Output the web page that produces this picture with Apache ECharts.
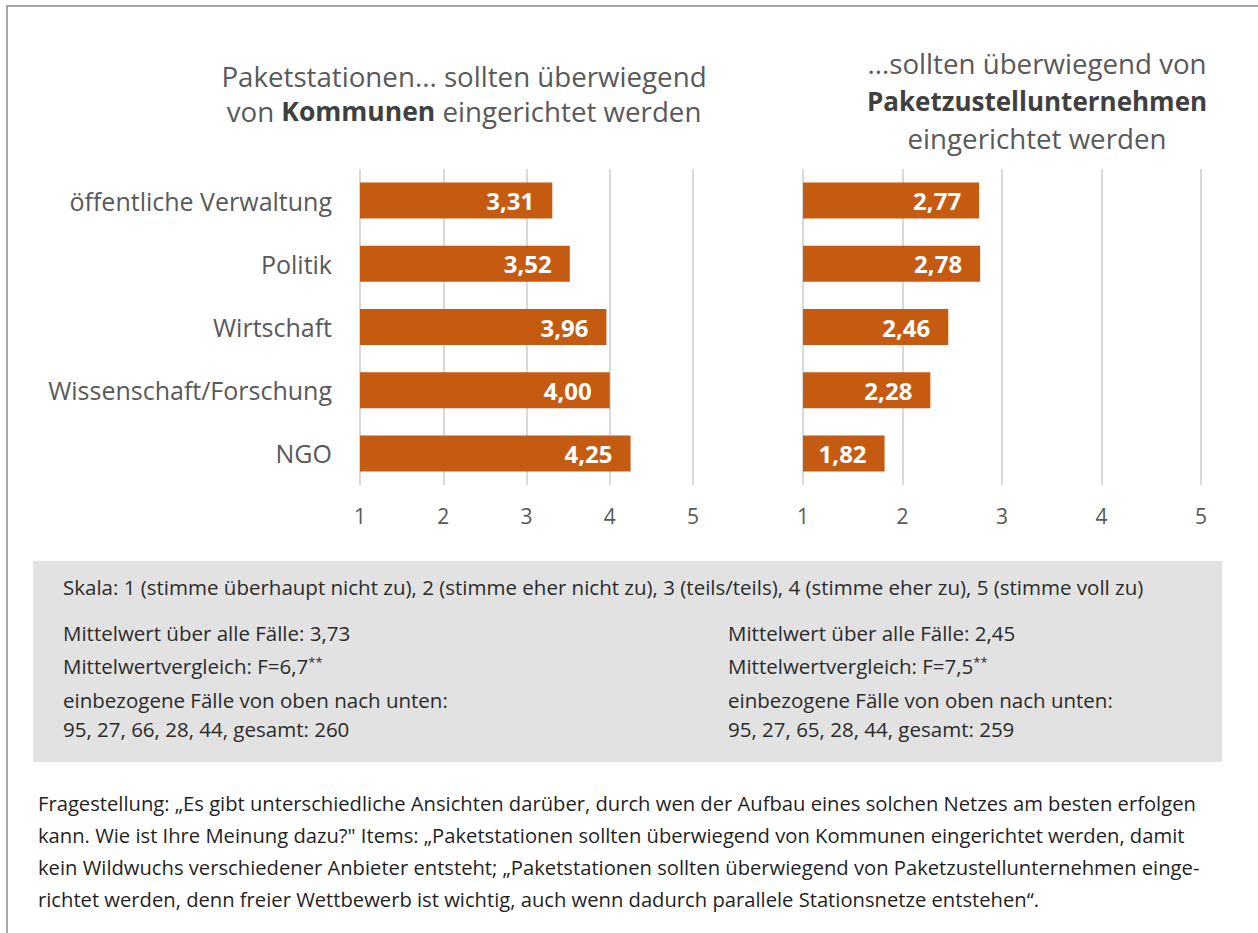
<!DOCTYPE html>
<html>
<head>
<meta charset="utf-8">
<script src="https://cdn.jsdelivr.net/npm/echarts@6/dist/echarts.min.js"></script>
<style>
  html, body { margin: 0; padding: 0; background: #fff; }
  #chart { width: 1258px; height: 933px; }
</style>
</head>
<body>
<div id="chart"></div>
<script>
// Daten
const categories = ['öffentliche Verwaltung', 'Politik', 'Wirtschaft', 'Wissenschaft/Forschung', 'NGO'];
const kommunenValues = [3.31, 3.52, 3.96, 4.00, 4.25];
const zustellerValues = [2.77, 2.78, 2.46, 2.28, 1.82];
const scaleMin = 1;
const scaleMax = 5;

const skalaText = 'Skala: 1 (stimme überhaupt nicht zu), 2 (stimme eher nicht zu), 3 (teils/teils), 4 (stimme eher zu), 5 (stimme voll zu)';
const leftStats = ['Mittelwert über alle Fälle: 3,73', 'Mittelwertvergleich: F=6,7', 'einbezogene Fälle von oben nach unten:', '95, 27, 66, 28, 44, gesamt: 260'];
const rightStats = ['Mittelwert über alle Fälle: 2,45', 'Mittelwertvergleich: F=7,5', 'einbezogene Fälle von oben nach unten:', '95, 27, 65, 28, 44, gesamt: 259'];
const footerLines = [
  'Fragestellung: „Es gibt unterschiedliche Ansichten darüber, durch wen der Aufbau eines solchen Netzes am besten erfolgen',
  'kann. Wie ist Ihre Meinung dazu?" Items: „Paketstationen sollten überwiegend von Kommunen eingerichtet werden, damit',
  'kein Wildwuchs verschiedener Anbieter entsteht; „Paketstationen sollten überwiegend von Paketzustellunternehmen einge-',
  'richtet werden, denn freier Wettbewerb ist wichtig, auch wenn dadurch parallele Stationsnetze entstehen“.'
];

const orange = '#C55A11';
const grau = '#595959';
const titleFont = '"Open Sans", "Noto Sans", sans-serif';
const smallFont = '"Open Sans", "Noto Sans", sans-serif';
const boxSize = 20.5;
const footSize = 20.2;

const chart = echarts.init(document.getElementById('chart'), null, { renderer: 'svg' });

function fmt(v) {
  return v.toFixed(2).replace('.', ',');
}

function valueAxis(gridIndex) {
  return {
    type: 'value',
    gridIndex: gridIndex,
    min: scaleMin,
    max: scaleMax,
    interval: 1,
    axisLine: { show: false },
    axisTick: { show: false },
    axisLabel: { color: grau, fontSize: 21, fontFamily: titleFont, margin: 20 },
    splitLine: { lineStyle: { color: '#d9d9d9', width: 2 } }
  };
}

function catAxis(gridIndex, showLabels) {
  return {
    type: 'category',
    gridIndex: gridIndex,
    data: categories,
    inverse: true,
    axisLine: { show: false },
    axisTick: { show: false },
    axisLabel: { show: showLabels, color: grau, fontSize: 25, fontFamily: titleFont, margin: 28 }
  };
}

function barSeries(idx, values) {
  return {
    type: 'bar',
    xAxisIndex: idx,
    yAxisIndex: idx,
    data: values,
    barWidth: 36,
    itemStyle: { color: orange },
    label: {
      show: true,
      position: 'insideRight',
      distance: 18,
      color: '#fff',
      fontWeight: 'bold',
      fontSize: 24,
      fontFamily: titleFont,
      formatter: p => fmt(p.value)
    }
  };
}

// Zeilenmitten im grauen Kasten
const statY = [633, 666, 700, 729];
const graphics = [
  // Rahmen
  { type: 'rect', z: 0, shape: { x: 7, y: 6, width: 1400, height: 1100 },
    style: { fill: 'transparent', stroke: '#8c8c8c', lineWidth: 1.5 } },
  // Titel links
  { type: 'text', x: 464, y: 93.5,
    style: {
      text: '{n|Paketstationen... sollten überwiegend}\n{n|von }{b|Kommunen}{n| eingerichtet werden}',
      align: 'center', verticalAlign: 'middle',
      rich: {
        n: { fontSize: 27.7, fontFamily: titleFont, fill: grau, lineHeight: 35 },
        b: { fontSize: 26.5, fontFamily: titleFont, fill: '#404040', fontWeight: 'bold', lineHeight: 35 }
      }
    } },
  // Titel rechts
  { type: 'text', x: 1037, y: 100.5,
    style: {
      text: '{n|...sollten überwiegend von}\n{b|Paketzustellunternehmen}\n{n|eingerichtet werden}',
      align: 'center', verticalAlign: 'middle',
      rich: {
        n: { fontSize: 27.7, fontFamily: titleFont, fill: grau, lineHeight: 37.5 },
        b: { fontSize: 26, fontFamily: titleFont, fill: '#404040', fontWeight: 'bold', lineHeight: 37.5 }
      }
    } },
  // grauer Kasten
  { type: 'rect', z: 0, shape: { x: 33, y: 561, width: 1189, height: 201 },
    style: { fill: '#e2e2e2' } },
  { type: 'text', x: 63, y: 587, z: 2,
    style: { text: skalaText, fontSize: boxSize, fontFamily: smallFont, fill: '#2b2b2b', verticalAlign: 'middle' } }
];

[[63, leftStats], [728, rightStats]].forEach(([x, lines]) => {
  lines.forEach((line, i) => {
    const isF = i === 1;
    graphics.push({
      type: 'text', x: x, y: statY[i], z: 2,
      style: {
        text: isF ? '{a|' + line + '}{s|**}' : line,
        fontSize: boxSize, fontFamily: smallFont, fill: '#2b2b2b', verticalAlign: 'middle',
        rich: {
          a: { fontSize: boxSize, fontFamily: smallFont, fill: '#2b2b2b' },
          s: { fontSize: 13, fontFamily: smallFont, fill: '#2b2b2b', verticalAlign: 'top', padding: [0, 0, 6, 0] }
        }
      }
    });
  });
});

footerLines.forEach((line, i) => {
  graphics.push({
    type: 'text', x: 38, y: 803 + i * 32, z: 2,
    style: { text: line, fontSize: footSize, fontFamily: smallFont, fill: '#1f1f1f', verticalAlign: 'middle' }
  });
});

const option = {
  backgroundColor: '#fff',
  animation: false,
  grid: [
    { left: 360, top: 169, width: 333, height: 316 },
    { left: 803, top: 169, width: 398, height: 316 }
  ],
  xAxis: [valueAxis(0), valueAxis(1)],
  yAxis: [catAxis(0, true), catAxis(1, false)],
  series: [barSeries(0, kommunenValues), barSeries(1, zustellerValues)],
  graphic: graphics
};

chart.setOption(option);
</script>
</body>
</html>
